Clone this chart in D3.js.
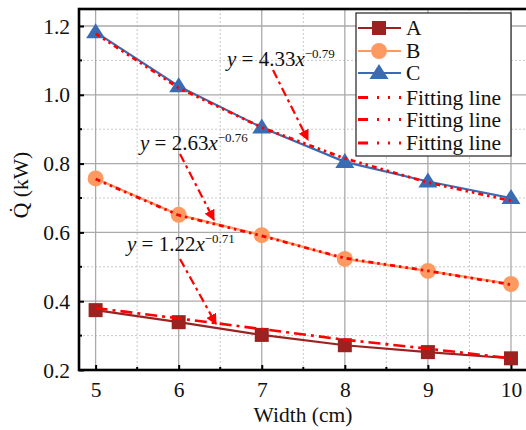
<!DOCTYPE html>
<html><head><meta charset="utf-8">
<script src="https://cdn.jsdelivr.net/npm/d3@7"></script>
<style>body{margin:0;background:#fff}svg{display:block}</style>
</head><body><svg id="c" width="526" height="430" font-family="Liberation Serif"></svg>
<script>
const widths = [5, 6, 7, 8, 9, 10];
const seriesA = [0.374, 0.339, 0.302, 0.272, 0.252, 0.234];
const seriesB = [0.757, 0.651, 0.592, 0.523, 0.488, 0.450];
const seriesC = [1.182, 1.025, 0.905, 0.805, 0.748, 0.700];
const fitA = [0.380, 0.350, 0.319, 0.288, 0.262, 0.234];
const fitB = [0.755, 0.650, 0.590, 0.525, 0.488, 0.448];
const fitC = [1.178, 1.020, 0.905, 0.815, 0.745, 0.692];
const xTicks = [5, 6, 7, 8, 9, 10];
const yTicks = [0.2, 0.4, 0.6, 0.8, 1.0, 1.2];
const seriesNames = ["A", "B", "C"];
const fitNames = ["Fitting line", "Fitting line", "Fitting line"];
const equations = [
  {coef: "4.33", exp: "\u22120.79"},
  {coef: "2.63", exp: "\u22120.76"},
  {coef: "1.22", exp: "\u22120.71"}
];

const FONT = "Liberation Serif";
const FS = 21.5;
const svg = d3.select("#c");
const L = 79, T = 9, R = 528, B = 370;
const x = d3.scaleLinear().domain([4.8, 10.205]).range([L, R]);
const y = d3.scaleLinear().domain([0.2, 1.2494]).range([B, T]);

// grid
const g = svg.append("g");
const xMinor = d3.range(5.5, 10.1, 1);
const yMinor = d3.range(0.3, 1.25, 0.2);
g.selectAll(".xm").data(xMinor).join("line").attr("x1", d=>x(d)).attr("x2", d=>x(d)).attr("y1", T).attr("y2", B)
  .attr("stroke", "#c8c8c8").attr("stroke-width", 1).attr("stroke-dasharray", "2,2");
g.selectAll(".ym").data(yMinor).join("line").attr("y1", d=>y(d)).attr("y2", d=>y(d)).attr("x1", L).attr("x2", R)
  .attr("stroke", "#c8c8c8").attr("stroke-width", 1).attr("stroke-dasharray", "2,2");
g.selectAll(".xM").data(xTicks).join("line").attr("x1", d=>x(d)).attr("x2", d=>x(d)).attr("y1", T).attr("y2", B)
  .attr("stroke", "#aaaaaa").attr("stroke-width", 1.3);
g.selectAll(".yM").data(yTicks).join("line").attr("y1", d=>y(d)).attr("y2", d=>y(d)).attr("x1", L).attr("x2", R)
  .attr("stroke", "#aaaaaa").attr("stroke-width", 1.3);

const colA = "#9c2222", colB = "#fd9a62", colC = "#3a6cb4", red = "#ff0000";
const line = d3.line().x((d,i)=>x(widths[i])).y(d=>y(d));

function drawSeries(vals, col) {
  svg.append("path").datum(vals).attr("d", line).attr("fill", "none").attr("stroke", col).attr("stroke-width", 2.2);
}
drawSeries(seriesA, colA);
drawSeries(seriesB, colB);
drawSeries(seriesC, colC);

function sq(g, cx, cy, col){ g.append("rect").attr("x", cx-7).attr("y", cy-7).attr("width", 14).attr("height", 14).attr("fill", col); }
function circ(g, cx, cy, col){ g.append("circle").attr("cx", cx).attr("cy", cy).attr("r", 8).attr("fill", col); }
function tri(g, cx, cy, col){ g.append("path").attr("d", `M${cx},${cy-9}L${cx+9.5},${cy+6}L${cx-9.5},${cy+6}Z`).attr("fill", col); }
seriesA.forEach((v,i)=>sq(svg, x(widths[i]), y(v), colA));
seriesB.forEach((v,i)=>circ(svg, x(widths[i]), y(v), colB));
seriesC.forEach((v,i)=>tri(svg, x(widths[i]), y(v), colC));

svg.append("path").datum(fitA).attr("d", line).attr("fill","none").attr("stroke", red).attr("stroke-width", 2.6).attr("stroke-dasharray","12,5,3,5");
svg.append("path").datum(fitB).attr("d", line).attr("fill","none").attr("stroke", red).attr("stroke-width", 2.8).attr("stroke-dasharray","5,4,2.5,4,2.5,4");
svg.append("path").datum(fitC).attr("d", line).attr("fill","none").attr("stroke", red).attr("stroke-width", 2.8).attr("stroke-dasharray","5,4,2.5,4,2.5,4");

// axes
const xAxis = d3.axisBottom(x).tickValues(xTicks).tickSize(-5).tickFormat(d3.format("d"));
const yAxis = d3.axisLeft(y).tickValues(yTicks).tickSize(-5).tickFormat(d3.format(".1f"));
const gx = svg.append("g").attr("transform", `translate(0,${B})`).call(xAxis);
const gy = svg.append("g").attr("transform", `translate(${L},0)`).call(yAxis);
[gx, gy].forEach(a => {
  a.attr("font-family", FONT).attr("font-size", FS);
  a.select(".domain").remove();
  a.selectAll(".tick line").attr("stroke", "#000").attr("stroke-width", 2);
  a.selectAll(".tick text").attr("fill", "#111");
});
gx.selectAll(".tick text").attr("dy", "0").attr("y", 27);
gy.selectAll(".tick text").attr("x", -9).attr("dy", "0.33em");
svg.selectAll(".xmt").data(xMinor).join("line").attr("x1", d=>x(d)).attr("x2", d=>x(d)).attr("y1", B).attr("y2", B-3).attr("stroke","#000").attr("stroke-width",2);
svg.selectAll(".ymt").data(yMinor).join("line").attr("y1", d=>y(d)).attr("y2", d=>y(d)).attr("x1", L).attr("x2", L+3).attr("stroke","#000").attr("stroke-width",2);
svg.append("rect").attr("x", L).attr("y", T).attr("width", R-L).attr("height", B-T).attr("fill","none").attr("stroke","#000").attr("stroke-width",2.6);

// axis labels
svg.append("text").attr("x", 303).attr("y", 422).attr("text-anchor","middle").attr("font-family", FONT).attr("font-size", FS).attr("fill","#111").text("Width (cm)");
svg.append("text").attr("transform", `translate(28,185) rotate(-90)`).attr("text-anchor","middle").attr("font-family", FONT).attr("font-size", FS).attr("fill","#111").text("Q\u0307 (kW)");

// annotations
svg.append("defs").append("marker").attr("id","ah").attr("viewBox","0 0 10 10").attr("refX",9).attr("refY",5)
  .attr("markerWidth",5).attr("markerHeight",5).attr("orient","auto").attr("markerUnits","strokeWidth")
  .append("path").attr("d","M0,0L10,5L0,10Z").attr("fill", red);
const eqPos = [[227, 66], [140, 150], [127, 251]];
const arrows = [[273, 70, 308, 140], [180, 154, 214, 220], [180, 259, 216, 324]];
equations.forEach((e,i)=>{
  const t = svg.append("text").attr("x", eqPos[i][0]).attr("y", eqPos[i][1]).attr("font-family", FONT).attr("font-size", 21).attr("fill","#111");
  t.append("tspan").attr("font-style","italic").text("y");
  t.append("tspan").text(" = " + e.coef);
  t.append("tspan").attr("font-style","italic").text("x");
  t.append("tspan").attr("font-size", 13).attr("dy", -8).text(e.exp);
  const a = arrows[i];
  svg.append("line").attr("x1",a[0]).attr("y1",a[1]).attr("x2",a[2]).attr("y2",a[3]).attr("stroke",red).attr("stroke-width",2.2)
    .attr("stroke-dasharray","9,4,3,4").attr("marker-end","url(#ah)");
});

// legend
const lg = svg.append("g").attr("font-family", FONT);
lg.append("rect").attr("x",356).attr("y",13).attr("width",155).attr("height",143).attr("fill","#fff").attr("stroke","#222").attr("stroke-width",1.2);
const rowsY = [28, 51, 73, 97.5, 119.5, 143];
const cols = [colA, colB, colC];
const mk = [sq, circ, tri];
seriesNames.forEach((n,i)=>{
  const yy = rowsY[i];
  lg.append("line").attr("x1",358).attr("x2",401).attr("y1",yy).attr("y2",yy).attr("stroke",cols[i]).attr("stroke-width",2.2);
  mk[i](lg, 379, yy, cols[i]);
  lg.append("text").attr("x",406).attr("y",yy).attr("dy","0.33em").attr("font-size",FS).attr("fill","#111").text(n);
});
fitNames.forEach((n,i)=>{
  const yy = rowsY[i+3];
  lg.append("line").attr("x1",358).attr("x2",402).attr("y1",yy).attr("y2",yy).attr("stroke",red).attr("stroke-width",3).attr("stroke-dasharray","10,9,2,9,2,9,2,20");
  lg.append("text").attr("x",406).attr("y",yy).attr("dy","0.33em").attr("font-size",FS).attr("fill","#111").text(n);
});
</script></body></html>
